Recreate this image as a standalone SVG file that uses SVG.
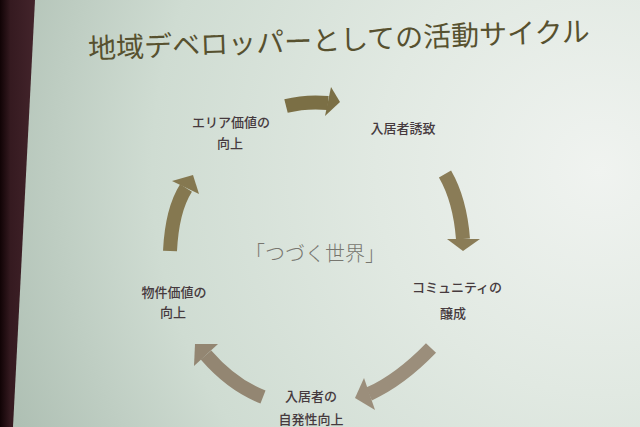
<svg xmlns="http://www.w3.org/2000/svg" width="640" height="427" viewBox="0 0 640 427">
<defs>
<radialGradient id="bg" cx="600" cy="170" r="640" gradientUnits="userSpaceOnUse">
<stop offset="0" stop-color="#f0f3f0"/>
<stop offset="0.35" stop-color="#e1e9e2"/>
<stop offset="0.7" stop-color="#cfdcd2"/>
<stop offset="1" stop-color="#aebfb3"/>
</radialGradient>
<linearGradient id="frame" x1="0" y1="0" x2="1" y2="0">
<stop offset="0" stop-color="#100305"/>
<stop offset="0.3" stop-color="#351a20"/>
<stop offset="1" stop-color="#43242b"/>
</linearGradient>
<style>
.lbl{font-family:"Noto Sans CJK JP","Noto Sans CJK SC",sans-serif;font-size:13px;fill:#463a3e;text-anchor:middle;font-weight:500}
.title{font-family:"Noto Sans CJK JP","Noto Sans CJK SC",sans-serif;font-size:28px;fill:#57512f;text-anchor:middle}
.center{font-family:"Noto Sans CJK JP","Noto Sans CJK SC",sans-serif;font-size:20px;fill:#77766f;text-anchor:middle;font-weight:300}
.body{fill:none;stroke-width:14;stroke-linecap:butt}
</style>
</defs>
<rect width="640" height="427" fill="url(#bg)"/>
<polygon points="0,0 35,0 13,427 0,427" fill="url(#frame)"/>
<text class="title" x="339" y="50" transform="rotate(-2 339 40)">地域デベロッパーとしての活動サイクル</text>
<text class="center" x="315" y="261">「つづく世界」</text>
<g id="connectors">
<g id="arrow-top" fill="#7b6f45" stroke="#7b6f45">
<path class="body" d="M286,106 Q306,101 328,103"/>
<polygon points="331,87 340,102 325,116" stroke="none"/>
</g>
<g id="arrow-right" fill="#8a7c57" stroke="#8a7c57">
<path class="body" d="M445,174 Q460,200 463,239"/>
<polygon points="447,239 480,239 463,251" stroke="none"/>
</g>
<g id="arrow-bottom-right" fill="#9b8e7b" stroke="#9b8e7b">
<path class="body" d="M431,348 Q400,380 369,394"/>
<polygon points="364,378 375,410 355,398" stroke="none"/>
</g>
<g id="arrow-bottom-left" fill="#938672" stroke="#938672">
<path class="body" d="M263,397 Q232,385 206,355"/>
<polygon points="218,344 194,366 195,344" stroke="none"/>
</g>
<g id="arrow-left" fill="#857850" stroke="#857850">
<path class="body" d="M170,251 Q172,210 186,188"/>
<polygon points="172,181 199,194 193,175" stroke="none"/>
</g>
</g>
<g id="node-area">
<text class="lbl" x="231" y="127">エリア価値の</text>
<text class="lbl" x="230" y="148">向上</text>
</g>
<g id="node-tenant">
<text class="lbl" x="403" y="133">入居者誘致</text>
</g>
<g id="node-community">
<text class="lbl" x="457" y="292">コミュニティの</text>
<text class="lbl" x="453" y="318">醸成</text>
</g>
<g id="node-resident">
<text class="lbl" x="311" y="401">入居者の</text>
<text class="lbl" x="311" y="424">自発性向上</text>
</g>
<g id="node-property">
<text class="lbl" x="174" y="297">物件価値の</text>
<text class="lbl" x="173" y="317">向上</text>
</g>
</svg>
